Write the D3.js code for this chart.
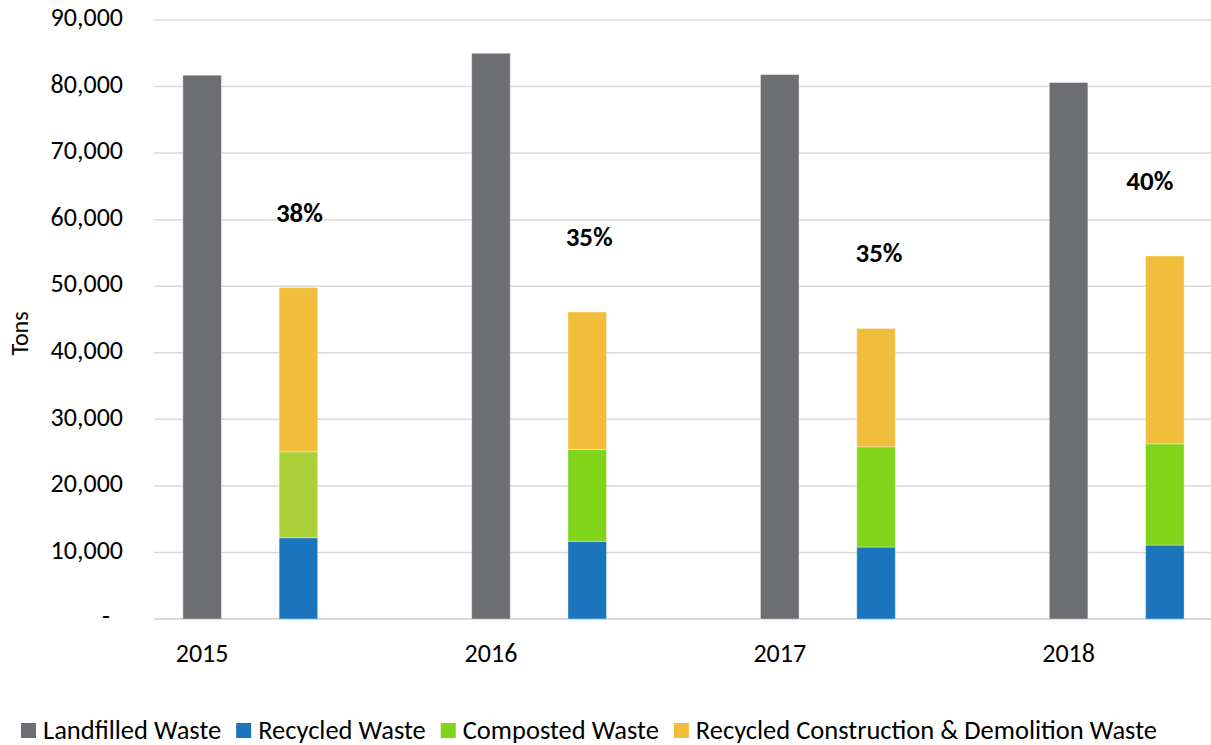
<!DOCTYPE html>
<html>
<head>
<meta charset="utf-8">
<script src="https://cdn.jsdelivr.net/npm/d3@7/dist/d3.min.js"></script>
<style>
  html, body { margin: 0; padding: 0; background: #fff; }
  svg { display: block; font-family: Calibri, Carlito, Lato, "Liberation Sans", sans-serif; }
</style>
</head>
<body>
<svg id="chart" width="1211" height="745"></svg>
<script>
// ---- data ----
const years = ["2015", "2016", "2017", "2018"];
const landfilled = [81700, 85000, 81800, 80600];
const recycled = [12210, 11670, 10810, 11110];
const composted = [12910, 13810, 15060, 15210];
const recycledCD = [24680, 20660, 17780, 28230];
const diversionLabels = ["38%", "35%", "35%", "40%"];
const yTicks = [0, 10000, 20000, 30000, 40000, 50000, 60000, 70000, 80000, 90000];
const seriesNames = ["Landfilled Waste", "Recycled Waste", "Composted Waste", "Recycled Construction & Demolition Waste"];

// ---- styles ----
const colors = {
  "Landfilled Waste": "#6d6e71",
  "Recycled Waste": "#1b75bc",
  "Composted Waste": "#80d41a",
  "Recycled Construction & Demolition Waste": "#f0be3b"
};
const composted2015Color = "#acd037";
const labelNudge = [1, 2, 3, -15];

const svg = d3.select("#chart");
const plotLeft = 154, plotRight = 1213, plotTop = 20, plotBottom = 619;

// slots: landfilled bar, stacked bar, empty gap per year (no trailing gap)
const slots = [];
years.forEach((yr, i) => {
  slots.push(yr + "|L", yr + "|R");
  if (i < years.length - 1) slots.push(yr + "|gap");
});
const x = d3.scaleBand().domain(slots).range([plotLeft, plotRight]).paddingInner(0.6).paddingOuter(0.3);
const y = d3.scaleLinear().domain([0, 90000]).range([plotBottom, plotTop]);

// gridlines
svg.append("g").selectAll("line").data(yTicks).join("line")
  .attr("x1", plotLeft).attr("x2", 1211)
  .attr("y1", d => y(d)).attr("y2", d => y(d))
  .attr("stroke", "#d9d9d9").attr("stroke-width", d => d === 0 ? 2 : 1.5);

// y axis labels
const yAxis = d3.axisLeft(y).tickValues(yTicks).tickSize(0).tickPadding(0)
  .tickFormat(d => d === 0 ? "-" : d3.format(",")(d));
const gy = svg.append("g").attr("transform", `translate(123,0)`).call(yAxis);
gy.select(".domain").remove();
gy.attr("font-family", null).attr("font-size", null);
gy.selectAll("text")
  .attr("font-size", 26).attr("fill", "#000")
  .attr("dy", "0.22em")
  .attr("dx", d => d === 0 ? -13 : 0);

// Y title
svg.append("text")
  .attr("transform", `translate(28,${(plotTop + plotBottom) / 2 + 14}) rotate(-90)`)
  .attr("text-anchor", "middle").attr("font-size", 24).attr("fill", "#000")
  .text("Tons");

// landfilled bars
svg.append("g").selectAll("rect").data(years).join("rect")
  .attr("x", d => x(d + "|L")).attr("width", x.bandwidth())
  .attr("y", (d, i) => y(landfilled[i]))
  .attr("height", (d, i) => y(0) - y(landfilled[i]))
  .attr("fill", colors["Landfilled Waste"])
  .attr("stroke", "rgba(255,255,255,0.35)").attr("stroke-width", 1);

// stacked bars
const table = years.map((yr, i) => ({
  year: yr,
  "Recycled Waste": recycled[i],
  "Composted Waste": composted[i],
  "Recycled Construction & Demolition Waste": recycledCD[i]
}));
const stackKeys = seriesNames.slice(1);
const stacked = d3.stack().keys(stackKeys)(table);
svg.append("g").selectAll("g").data(stacked).join("g")
  .each(function(layer) {
    d3.select(this).selectAll("rect").data(layer).join("rect")
      .attr("x", d => x(d.data.year + "|R")).attr("width", x.bandwidth())
      .attr("y", d => y(d[1])).attr("height", d => y(d[0]) - y(d[1]))
      .attr("fill", d => (layer.key === "Composted Waste" && d.data.year === "2015") ? composted2015Color : colors[layer.key])
      .attr("stroke", "rgba(255,255,255,0.35)").attr("stroke-width", 1);
  });

// percent labels
svg.append("g").selectAll("text").data(years).join("text")
  .attr("x", (d, i) => x(d + "|R") + x.bandwidth() / 2 + labelNudge[i])
  .attr("y", (d, i) => y(recycled[i] + composted[i] + recycledCD[i]) - 66)
  .attr("text-anchor", "middle").attr("font-size", 27).attr("font-weight", "bold").attr("fill", "#000")
  .text((d, i) => diversionLabels[i]);

// x labels
svg.append("g").selectAll("text").data(years).join("text")
  .attr("x", d => x(d + "|L") + x.bandwidth() / 2)
  .attr("y", 662)
  .attr("text-anchor", "middle").attr("font-size", 26).attr("fill", "#000")
  .text(d => d);

// legend
const legend = svg.append("g");
let lx = 21;
seriesNames.forEach(name => {
  legend.append("rect").attr("x", lx).attr("y", 723).attr("width", 15).attr("height", 15)
    .attr("fill", colors[name]);
  const t = legend.append("text").attr("x", lx + 22).attr("y", 739)
    .attr("font-size", 26.5).attr("fill", "#000").text(name);
  lx += 22 + t.node().getComputedTextLength() + 15;
});
</script>
</body>
</html>
